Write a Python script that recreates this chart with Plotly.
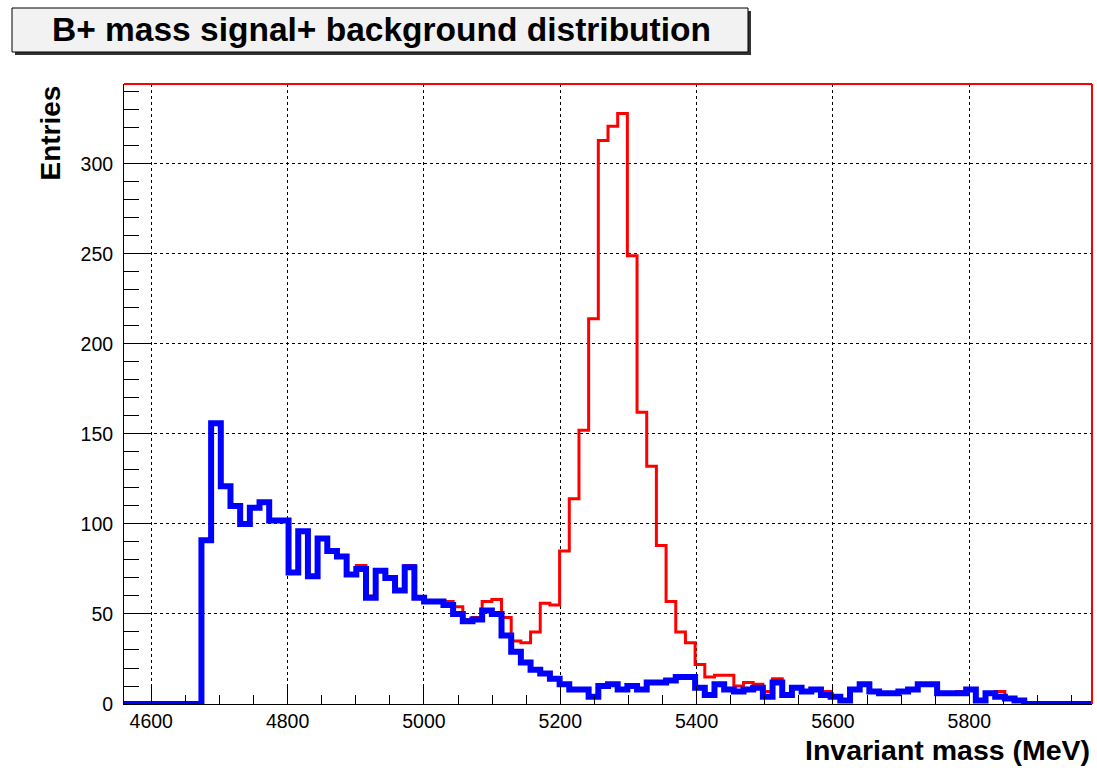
import numpy as np
import plotly.graph_objects as go

# Histogram binning (100 bins)
X_MIN = 4560.0
X_MAX = 5980.0
N_BINS = 100
Y_MAX = 344.4

# Background only (blue)
background = [
    0, 0, 0, 0, 0, 0, 0, 0, 91, 156,
    121, 110, 100, 109, 112, 102, 102, 73, 96, 71,
    92, 85, 82, 72, 75, 59, 74, 70, 63, 76,
    59, 57, 57, 55, 50, 46, 47, 52, 50, 38,
    29, 23, 19, 17, 14, 11, 8, 8, 4, 10,
    11, 8, 10, 8, 12, 12, 13, 15, 15, 9,
    5, 11, 8, 7, 8, 9, 4, 12, 5, 9,
    7, 8, 5, 4, 2, 8, 11, 7, 6, 6,
    7, 8, 11, 11, 6, 6, 6, 8, 2, 6,
    4, 3, 2, 0, 0, 0, 0, 0, 0, 0,
]

# Signal + background (red)
signal_plus_bkg = [
    0, 0, 0, 0, 0, 0, 0, 0, 91, 156,
    121, 110, 100, 109, 112, 102, 102, 73, 96, 71,
    92, 85, 82, 72, 77, 60, 74, 70, 63, 77,
    59, 57, 57, 57, 54, 47, 48, 57, 58, 48,
    35, 34, 40, 56, 55, 85, 114, 152, 214, 313,
    321, 328, 249, 162, 132, 88, 57, 40, 34, 22,
    15, 16, 16, 10, 12, 11, 7, 14, 5, 9,
    7, 8, 7, 4, 2, 8, 11, 7, 6, 6,
    7, 8, 11, 11, 6, 6, 7, 8, 2, 6,
    7, 3, 2, 0, 0, 0, 0, 0, 0, 0,
]

X_TICKS = [4600, 4800, 5000, 5200, 5400, 5600, 5800]
Y_TICKS = [0, 50, 100, 150, 200, 250, 300]

TITLE = "B+ mass signal+ background distribution"
X_TITLE = "Invariant mass (MeV)"
Y_TITLE = "Entries"

edges = np.linspace(X_MIN, X_MAX, N_BINS + 1)


def step(values):
    xs = list(edges[:-1]) + [edges[-1]]
    ys = list(values) + [values[-1]]
    return xs, ys


W, H = 1097, 768
ML, MR, MT, MB = 124, 5, 84, 64
PW = W - ML - MR
PH = H - MT - MB


def px(x):
    return (x - ML) / PW


def py(y):
    return (H - MB - y) / PH


fig = go.Figure()
xr, yr = step(signal_plus_bkg)
fig.add_trace(go.Scatter(x=xr, y=yr, mode="lines", line=dict(color="#ff0000", width=3, shape="hv"),
                         cliponaxis=False, showlegend=False, hoverinfo="skip"))
xb, yb = step(background)
fig.add_trace(go.Scatter(x=xb, y=yb, mode="lines", line=dict(color="#0000ff", width=6, shape="hv"),
                         cliponaxis=False, showlegend=False, hoverinfo="skip"))

FONT = "Liberation Sans, Arial, sans-serif"

fig.update_layout(
    width=W, height=H,
    margin=dict(l=ML, r=MR, t=MT, b=MB, pad=0),
    paper_bgcolor="white", plot_bgcolor="white",
    showlegend=False,
    font=dict(family=FONT, color="black"),
    xaxis=dict(
        range=[X_MIN, X_MAX], tickvals=X_TICKS, ticktext=[str(v) for v in X_TICKS],
        ticks="inside", ticklen=18, tickcolor="black", tickwidth=1,
        minor=dict(dtick=50, tick0=4600, ticks="inside", ticklen=9, tickcolor="black", showgrid=False),
        showgrid=True, gridcolor="black", gridwidth=1, griddash="3px,3px",
        showline=True, linecolor="black", linewidth=1, mirror=False,
        zeroline=False, tickfont=dict(size=19.5, family=FONT, color="black"),
    ),
    yaxis=dict(
        range=[0, Y_MAX], tickvals=Y_TICKS, ticktext=[str(v) for v in Y_TICKS],
        ticks="inside", ticklen=28, tickcolor="black", tickwidth=1,
        minor=dict(dtick=10, tick0=0, ticks="inside", ticklen=15, tickcolor="black", showgrid=False),
        showgrid=True, gridcolor="black", gridwidth=1, griddash="3px,3px",
        showline=True, linecolor="black", linewidth=1, mirror=False,
        zeroline=False, tickfont=dict(size=19.5, family=FONT, color="black"),
        ticklabelstandoff=6,
    ),
)

shapes = []
# red frame (top and right)
shapes.append(dict(type="line", xref="paper", yref="paper", x0=0, x1=1, y0=1, y1=1,
                   line=dict(color="#ff0000", width=2)))
shapes.append(dict(type="line", xref="paper", yref="paper", x0=1, x1=1, y0=0, y1=1,
                   line=dict(color="#ff0000", width=2)))
# title box shadow and box
shapes.append(dict(type="rect", xref="paper", yref="paper", layer="above",
                   x0=px(15), x1=px(751), y0=py(55), y1=py(11),
                   fillcolor="#333333", line=dict(width=0)))
shapes.append(dict(type="rect", xref="paper", yref="paper", layer="above",
                   x0=px(12), x1=px(748), y0=py(52), y1=py(8),
                   fillcolor="#f2f2f2", line=dict(color="black", width=1)))
fig.update_layout(shapes=shapes)

fig.add_annotation(x=px(381), y=py(30), xref="paper", yref="paper", text="<b>" + TITLE + "</b>",
                   showarrow=False, xanchor="center", yanchor="middle",
                   font=dict(size=33.5, family=FONT, color="black"))
fig.add_annotation(x=px(50), y=1.0, xref="paper", yref="paper", text="<b>" + Y_TITLE + "</b>",
                   showarrow=False, xanchor="center", yanchor="top", textangle=-90,
                   font=dict(size=28, family=FONT, color="black"))
fig.add_annotation(x=1.0, y=py(750), xref="paper", yref="paper", text="<b>" + X_TITLE + "</b>",
                   showarrow=False, xanchor="right", yanchor="middle",
                   font=dict(size=28.5, family=FONT, color="black"))

fig.write_html("out.html")
